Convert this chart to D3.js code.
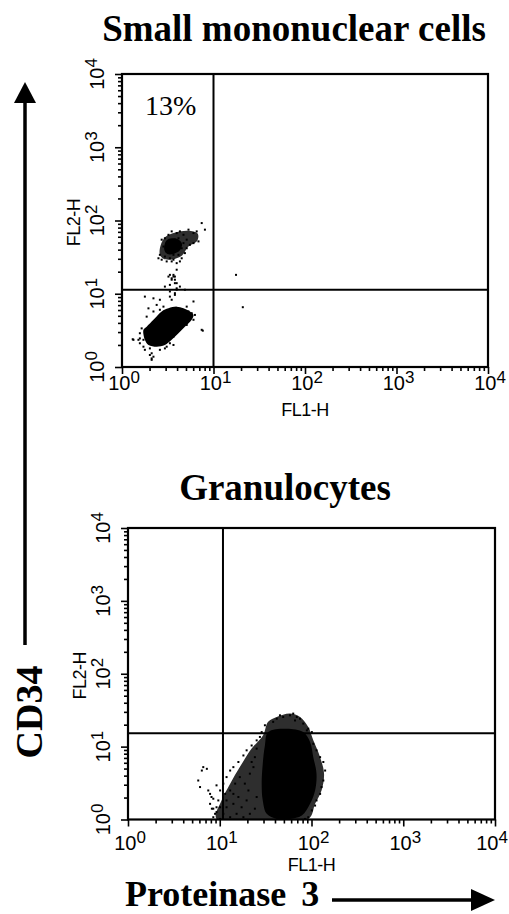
<!DOCTYPE html>
<html>
<head>
<meta charset="utf-8">
<script src="https://cdn.jsdelivr.net/npm/d3@7"></script>
<style>
  body { margin: 0; background: #fff; }
  svg { display: block; }
</style>
</head>
<body>
<svg id="fig" width="509" height="914"></svg>
<script>
// FACScan list-mode data: 1024 channels spread over four log decades.
const CHANNELS_PER_DECADE = 256;

const decadeTicks = [1, 10, 100, 1000, 10000];
const decadeExponents = ["0", "1", "2", "3", "4"];
const panelTitles = ["Small mononuclear cells", "Granulocytes"];
const xAxisName = "FL1-H";
const yAxisName = "FL2-H";
const markerLabel = "CD34";
const stainLabel = "Proteinase 3";

// ---- Small mononuclear cells (channels: [FL1, FL2]) ----
const smcQuadrant = [256, 270];
const smcPercent = "13%";
const smcMainCore = [[60,130],[64,95],[74,77],[97,71],[120,77],[139,95],[158,118],[176,141],[195,165],
  [200,182],[190,194],[172,205],[153,211],[130,205],[111,194],[88,165],[69,141]];
const smcUpperHalo = [[106,392],[108,425],[122,455],[150,470],[185,476],[212,466],[210,440],[185,420],
  [168,390],[140,376],[116,378]];
const smcUpperCore = [[118,420],[125,443],[140,450],[158,446],[168,430],[162,408],[146,396],[130,394],[120,404]];
const smcEvents = [
  [32,95],[50,118],[50,100],[50,83],[55,135],[60,71],[64,60],[78,65],[83,48],[83,25],[88,36],[106,60],
  [120,65],[134,83],[144,77],[223,130],[200,165],[204,182],[186,194],[195,188],[162,200],[116,211],
  [106,200],[88,240],[64,246],[74,205],[139,235],[148,252],[134,264],[153,270],[120,281],[134,287],
  [139,310],[144,322],[153,340],[130,316],[148,305],[162,281],[176,270],[69,176],[88,194],[97,217],
  [106,235],[134,246],[148,258],[153,293],[148,316],[134,322],[200,229],[181,211],[181,147],[162,130],
  [144,106],[125,71],[78,42],[83,30],[46,95],[60,95],[30,97],[226,127],[319,322],[338,209],
  [111,445],[120,450],[130,462],[139,474],[153,468],[162,474],[172,462],[186,480],[200,468],[209,474],
  [223,503],[232,480],[214,439],[200,433],[190,427],[181,415],[176,398],[167,380],[162,369],[153,363],
  [144,375],[134,380],[120,386],[106,392],[102,380],[111,375],[125,404],[116,421],[139,421],[148,410],
  [153,433],[158,450],[148,445],[134,439],[125,433],[130,410],[144,392],[167,415],[172,433],[181,445],
  [158,392],[139,369],[125,369],[144,316],[139,305],[148,293],[153,275]
];

// ---- Granulocytes ----
const granQuadrant = [265, 303];
const granHalo = [[247,2],[261,67],[285,126],[312,184],[345,249],[377,296],[391,343],[415,360],[452,372],
  [480,360],[503,325],[517,278],[536,219],[547,161],[540,102],[522,55],[503,2]];
const granCore = [[391,307],[443,319],[489,307],[508,272],[517,219],[526,161],[522,102],[508,55],[485,14],
  [452,2],[415,2],[387,20],[376,67],[373,126],[376,196],[382,260]];
const granEvents = [
  [206,172],[220,178],[196,137],[224,102],[233,79],[229,55],[238,38],[238,8],[247,26],[252,67],[257,102],
  [266,126],[275,149],[285,172],[294,184],[308,202],[322,225],[331,243],[345,260],[359,278],[368,290],
  [373,307],[382,331],[405,343],[415,354],[424,366],[433,360],[452,366],[461,372],[466,348],[471,360],
  [480,354],[489,337],[503,319],[513,307],[499,313],[517,266],[526,243],[536,219],[545,202],[550,172],
  [545,137],[540,114],[536,90],[526,67],[522,49],[513,32],[503,8],[494,2],[285,102],[299,126],[312,149],
  [308,79],[294,55],[275,43],[266,20],[285,8],[303,20],[317,43],[331,67],[336,102],[326,126],[340,161],
  [350,184],[354,219],[345,202],[359,249],[257,2],[275,67],[294,90],[322,8],[340,20],[354,38],[359,79],
  [257,43],[271,90],[210,184],[201,114],[229,90],[238,73],[247,120],[234,38],[247,43],[243,20]
];

const panels = [
  { title: panelTitles[0], titleX: 294, titleY: 41,
    box: { left: 122, top: 74, right: 488, bottom: 367 },
    xLabelGap: 23, nameGap: 49,
    quadrant: smcQuadrant, halos: [smcUpperHalo], cores: [smcMainCore, smcUpperCore],
    events: smcEvents, percent: smcPercent },
  { title: panelTitles[1], titleX: 285, titleY: 500,
    box: { left: 128, top: 528, right: 495, bottom: 819.5 },
    xLabelGap: 30, nameGap: 51,
    quadrant: granQuadrant, halos: [granHalo], cores: [granCore],
    events: granEvents, percent: null }
];

const SANS = "'Liberation Sans', Arial, Helvetica, sans-serif";
const SERIF = "'Liberation Serif', 'Times New Roman', Times, serif";
const FIG_WIDTH = 509;
const LABEL_HALF = 16;

const svg = d3.select("#fig");
const toValue = ch => Math.pow(10, ch / CHANNELS_PER_DECADE);

const minorTicks = [];
decadeTicks.slice(0, -1).forEach(d => { for (let m = 2; m <= 9; m++) minorTicks.push(m * d); });

panels.forEach((p, i) => {
  const b = p.box;
  const x = d3.scaleLog().domain([1, 1e4]).range([b.left, b.right]);
  const y = d3.scaleLog().domain([1, 1e4]).range([b.bottom, b.top]);
  const g = svg.append("g");

  // panel title
  svg.append("text")
    .attr("x", p.titleX).attr("y", p.titleY)
    .attr("text-anchor", "middle")
    .style("font-family", SERIF).style("font-weight", "bold").style("font-size", "37px")
    .text(p.title);

  const clipId = "clip" + i;
  svg.append("clipPath").attr("id", clipId)
    .append("rect").attr("x", b.left).attr("y", b.top)
    .attr("width", b.right - b.left).attr("height", b.bottom - b.top);

  const plot = g.append("g").attr("clip-path", `url(#${clipId})`);
  const outline = d3.line()
    .x(d => x(toValue(d[0])))
    .y(d => y(toValue(d[1])))
    .curve(d3.curveCatmullRomClosed.alpha(0.5));

  plot.selectAll("path.halo").data(p.halos).join("path")
    .attr("class", "halo").attr("d", outline).attr("fill", "#2e2e2e");
  plot.selectAll("path.core").data(p.cores).join("path")
    .attr("class", "core").attr("d", outline).attr("fill", "#000");
  plot.selectAll("rect.ev").data(p.events).join("rect")
    .attr("class", "ev")
    .attr("x", d => x(toValue(d[0])) - 1)
    .attr("y", d => y(toValue(d[1])) - 1)
    .attr("width", 2).attr("height", 2).attr("fill", "#000");

  // quadrant markers
  const qx = x(toValue(p.quadrant[0]));
  const qy = y(toValue(p.quadrant[1]));
  g.append("line").attr("x1", qx).attr("x2", qx).attr("y1", b.top).attr("y2", b.bottom)
    .attr("stroke", "#000").attr("stroke-width", 2);
  g.append("line").attr("x1", b.left).attr("x2", b.right).attr("y1", qy).attr("y2", qy)
    .attr("stroke", "#000").attr("stroke-width", 2);

  // ticks
  const tickStyle = sel => {
    sel.select(".domain").remove();
    sel.selectAll("line").attr("stroke", "#000").attr("stroke-width", 1.6);
  };
  g.append("g").attr("transform", `translate(0,${b.bottom})`)
    .call(d3.axisBottom(x).tickValues(minorTicks).tickSize(4).tickFormat(""))
    .call(tickStyle);
  g.append("g").attr("transform", `translate(0,${b.bottom})`)
    .call(d3.axisBottom(x).tickValues(decadeTicks).tickSize(7).tickFormat(""))
    .call(tickStyle);
  g.append("g").attr("transform", `translate(${b.left},0)`)
    .call(d3.axisLeft(y).tickValues(minorTicks).tickSize(4).tickFormat(""))
    .call(tickStyle);
  g.append("g").attr("transform", `translate(${b.left},0)`)
    .call(d3.axisLeft(y).tickValues(decadeTicks).tickSize(7).tickFormat(""))
    .call(tickStyle);

  // frame
  g.append("rect").attr("x", b.left).attr("y", b.top)
    .attr("width", b.right - b.left).attr("height", b.bottom - b.top)
    .attr("fill", "none").attr("stroke", "#000").attr("stroke-width", 2.2);

  // decade labels: "10" with a raised exponent
  const powerLabel = (sel) => {
    sel.style("font-family", SANS).style("font-size", "20px").attr("text-anchor", "middle");
    sel.append("tspan").text("10");
    sel.append("tspan").attr("dy", -7).style("font-size", "17px").text((d, k) => decadeExponents[k]);
  };
  g.selectAll("text.xl").data(decadeTicks).join("text")
    .attr("class", "xl")
    .attr("x", d => Math.min(x(d) + 2, FIG_WIDTH - LABEL_HALF - 1))
    .attr("y", b.bottom + p.xLabelGap)
    .call(powerLabel);
  g.selectAll("text.yl").data(decadeTicks).join("text")
    .attr("class", "yl")
    .attr("transform", d => `translate(${b.left - 18},${y(d)}) rotate(-90)`)
    .call(powerLabel);

  // channel names
  g.append("text")
    .attr("x", (b.left + b.right) / 2).attr("y", b.bottom + p.nameGap)
    .attr("text-anchor", "middle")
    .style("font-family", SANS).style("font-size", "18px").style("letter-spacing", "-0.5px")
    .text(xAxisName);
  g.append("text")
    .attr("transform", `translate(${b.left - 42},${y(100) + 2}) rotate(-90)`)
    .attr("text-anchor", "middle")
    .style("font-family", SANS).style("font-size", "18px").style("letter-spacing", "-0.5px")
    .text(yAxisName);

  if (p.percent) {
    g.append("text")
      .attr("x", b.left + 23).attr("y", b.top + 41)
      .style("font-family", SERIF).style("font-size", "28px")
      .text(p.percent);
  }
});

// marker arrows
const arrowY = { x: 25, top: 82, headBase: 103, bottom: 645 };
svg.append("line").attr("x1", arrowY.x).attr("x2", arrowY.x)
  .attr("y1", arrowY.bottom).attr("y2", arrowY.headBase)
  .attr("stroke", "#000").attr("stroke-width", 3.5);
svg.append("path")
  .attr("d", `M${arrowY.x},${arrowY.top} L${arrowY.x - 11},${arrowY.headBase} L${arrowY.x + 11},${arrowY.headBase} Z`)
  .attr("fill", "#000");
svg.append("text")
  .attr("transform", "translate(42,712) rotate(-90)")
  .attr("text-anchor", "middle")
  .style("font-family", SERIF).style("font-weight", "bold").style("font-size", "38px")
  .text(markerLabel);

const arrowX = { y: 900, left: 332, headBase: 471, tip: 495 };
svg.append("line").attr("x1", arrowX.left).attr("x2", arrowX.headBase)
  .attr("y1", arrowX.y).attr("y2", arrowX.y)
  .attr("stroke", "#000").attr("stroke-width", 3.5);
svg.append("path")
  .attr("d", `M${arrowX.tip},${arrowX.y} L${arrowX.headBase},${arrowX.y - 11} L${arrowX.headBase},${arrowX.y + 11} Z`)
  .attr("fill", "#000");
svg.append("text")
  .attr("x", 125).attr("y", 906)
  .style("font-family", SERIF).style("font-weight", "bold").style("font-size", "36px")
  .style("word-spacing", "6px")
  .text(stainLabel);
</script>
</body>
</html>
